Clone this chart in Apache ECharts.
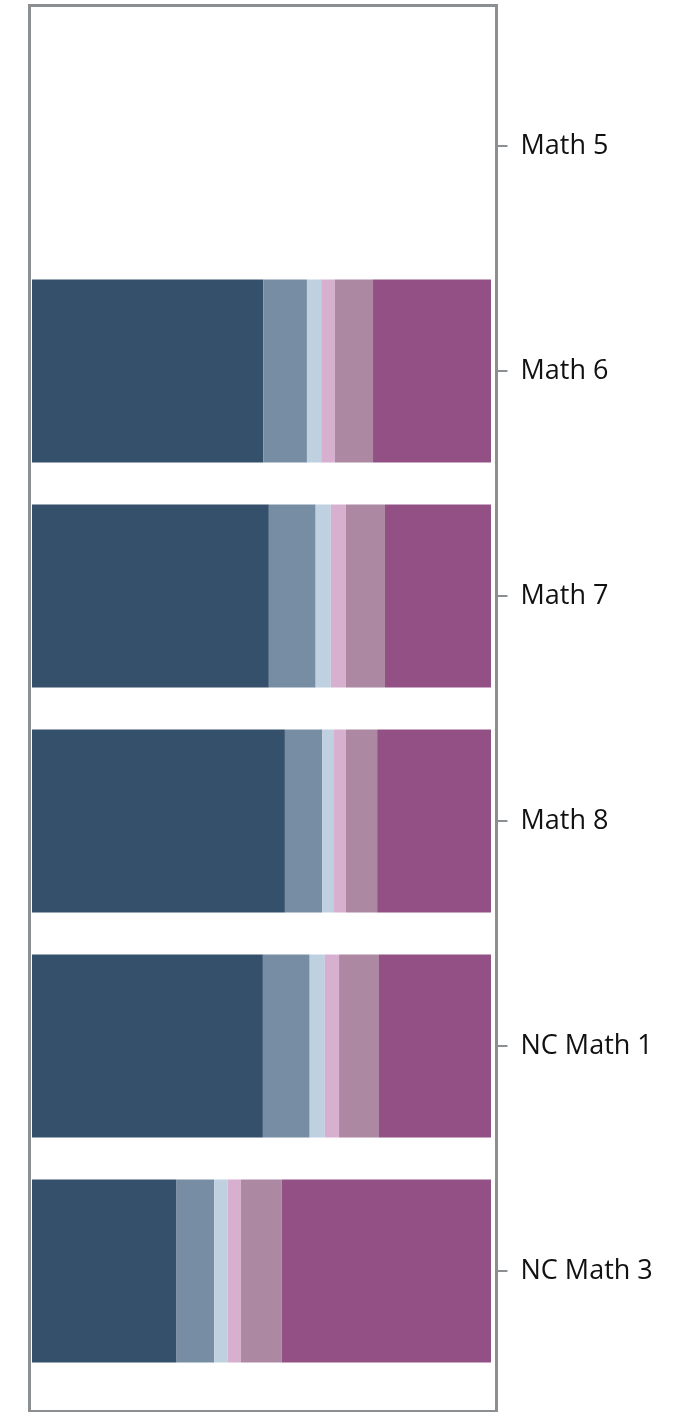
<!DOCTYPE html>
<html>
<head>
<meta charset="utf-8">
<script src="https://cdn.jsdelivr.net/npm/echarts@6/dist/echarts.min.js"></script>
<style>
html,body{margin:0;padding:0;background:#fff;}
#chart{width:693px;height:1412px;}
</style>
</head>
<body>
<div id="chart"></div>
<script>
var categories = ['Math 5', 'Math 6', 'Math 7', 'Math 8', 'NC Math 1', 'NC Math 3'];
var seriesNames = ['Level 1', 'Level 2', 'Level 3', 'Level 4', 'Level 5', 'Level 6'];
var level1 = [null, 50.4, 51.6, 55.1, 50.3, 31.5];
var level2 = [null, 9.5, 10.2, 8.1, 10.2, 8.2];
var level3 = [null, 3.1, 3.3, 2.6, 3.3, 2.9];
var level4 = [null, 3.0, 3.3, 2.6, 3.1, 2.9];
var level5 = [null, 8.3, 8.5, 6.8, 8.7, 8.9];
var level6 = [null, 25.7, 23.1, 24.8, 24.4, 45.6];
var colors = ['#34506a', '#778da3', '#bfd0e0', '#d8b0cf', '#ad88a3', '#935085'];

var dataSets = [level1, level2, level3, level4, level5, level6];
var chart = echarts.init(document.getElementById('chart'));
chart.setOption({
  animation: false,
  grid: { left: 32, right: 196.5, top: 33.5, height: 1350, containLabel: false },
  graphic: [{
    type: 'rect', silent: true, z: 100,
    shape: { x: 29.5, y: 5.5, width: 467, height: 1406 },
    style: { fill: 'none', stroke: '#8c8f92', lineWidth: 3 }
  }],
  xAxis: {
    type: 'value', min: 0, max: 101.2, show: false
  },
  yAxis: {
    type: 'category', data: categories, inverse: true, position: 'right',
    axisLine: { show: false, onZero: false },
    axisTick: { show: true, inside: false, length: 11, lineStyle: { color: '#8c8f92', width: 2 }, alignWithLabel: true },
    axisLabel: { margin: 24, fontFamily: 'Open Sans', fontSize: 27, color: '#111', verticalAlign: 'middle', padding: [8, 0, 0, 0] },
    splitLine: { show: false }
  },
  series: dataSets.map(function (d, i) {
    return {
      name: seriesNames[i], type: 'bar', stack: 'total', data: d,
      barCategoryGap: '18.7%',
      itemStyle: { color: colors[i] }
    };
  })
});
</script>
</body>
</html>
